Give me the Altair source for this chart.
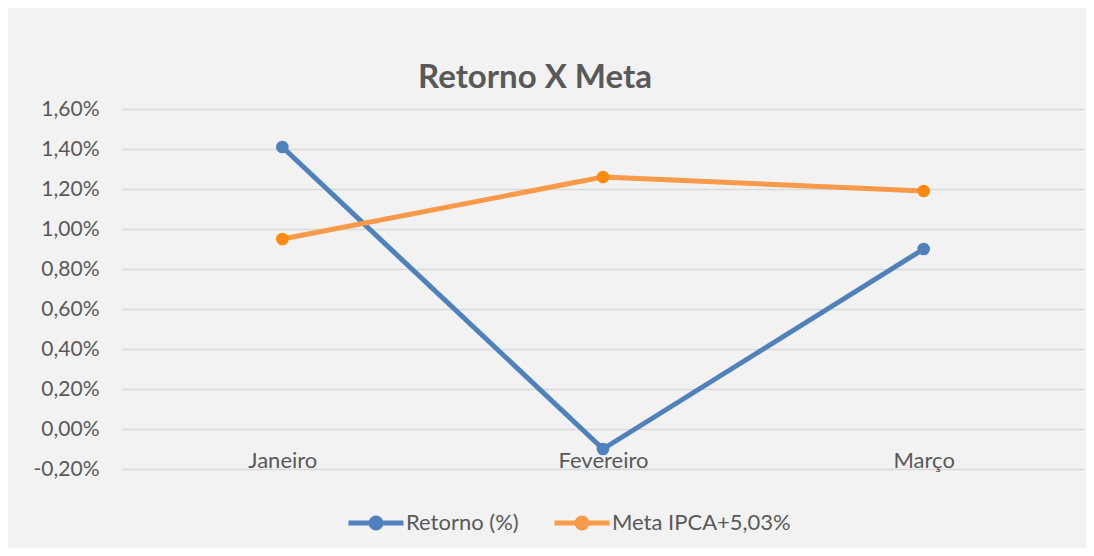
import altair as alt
import pandas as pd

months = ["Janeiro", "Fevereiro", "Março"]
series_names = ["Retorno (%)", "Meta IPCA+5,03%"]
retorno = [1.41, -0.10, 0.90]
meta = [0.95, 1.26, 1.19]
y_ticks = [-0.2, 0.0, 0.2, 0.4, 0.6, 0.8, 1.0, 1.2, 1.4, 1.6]

rows = []
for m, r in zip(months, retorno):
    rows.append({"mes": m, "serie": series_names[0], "valor": r})
for m, v in zip(months, meta):
    rows.append({"mes": m, "serie": series_names[1], "valor": v})
df = pd.DataFrame(rows)

FONT = "Lato"
TXT = "#595959"
BLUE = "#4f81bd"
ORANGE_LINE = "#f9994a"
ORANGE_DOT = "#ff8a0e"

x_enc = alt.X(
    "mes:N",
    sort=months,
    scale=alt.Scale(type="point", padding=0.5),
    axis=alt.Axis(
        title=None, ticks=False, domain=False, grid=False, labelAngle=0,
        offset=-40, labelPadding=21, labelFontSize=22, labelColor=TXT, labelFont=FONT,
    ),
)
y_enc = alt.Y(
    "valor:Q",
    scale=alt.Scale(domain=[-0.2, 1.6], nice=False, zero=False),
    axis=alt.Axis(
        title=None, values=y_ticks, ticks=False, domain=False, labelOverlap=False,
        labelExpr="replace(replace(format(datum.value, '.2f'), '.', ','), '\u2212', '-') + '%'",
        labelPadding=23, labelFontSize=21, labelColor=TXT, labelFont=FONT,
        gridColor="#d9d9d9", gridWidth=1.6,
    ),
)

legend_symbol = "M-1,0H1M-0.18,0A0.18,0.18 0 1,1 0.18,0A0.18,0.18 0 1,1 -0.18,0Z"


def make_legend():
    return alt.Legend(
        title=None, orient="none", direction="horizontal",
        legendX=224, legendY=384,
        symbolType=legend_symbol, symbolSize=3025, symbolStrokeWidth=5,
        labelFontSize=22, labelColor=TXT, labelFont=FONT, labelOffset=0,
        labelLimit=400, columnPadding=25,
    )


lines = alt.Chart(df).mark_line(strokeWidth=5, strokeCap="round", strokeJoin="round").encode(
    x=x_enc,
    y=y_enc,
    stroke=alt.Stroke(
        "serie:N",
        sort=series_names,
        scale=alt.Scale(domain=series_names, range=[BLUE, ORANGE_LINE]),
        legend=make_legend(),
    ),
)

points = alt.Chart(df).mark_circle(size=160, opacity=1).encode(
    x=x_enc,
    y=y_enc,
    fill=alt.Fill(
        "serie:N",
        sort=series_names,
        scale=alt.Scale(domain=series_names, range=[BLUE, ORANGE_DOT]),
        legend=make_legend(),
    ),
)

chart = (
    alt.layer(lines, points)
    .properties(
        width=962,
        height=360,
        autosize=alt.AutoSizeParams(type="none"),
        padding={"left": 114, "top": 101, "right": 2, "bottom": 79},
        title=alt.Title("Retorno X Meta", dx=-68, offset=3),
    )
    .configure(background="#f2f2f2")
    .configure_view(stroke=None)
    .configure_title(font=FONT, fontSize=33, fontWeight="bold", color=TXT, anchor="middle")
)

chart.save("out.html", embed_options={"renderer": "svg", "actions": False})
